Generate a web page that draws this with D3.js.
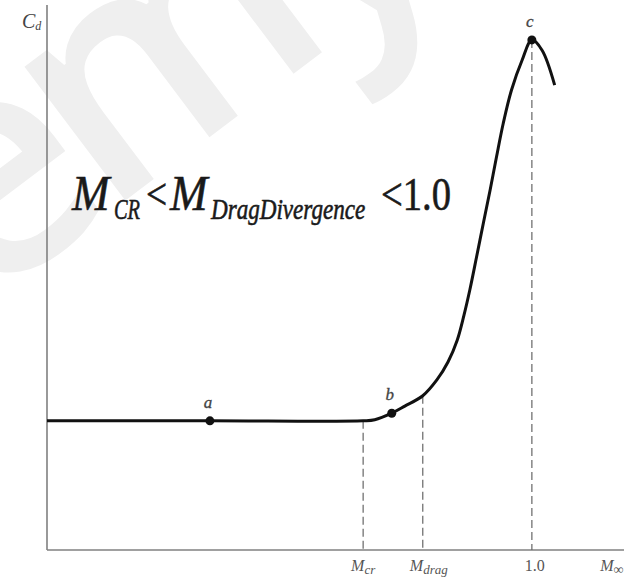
<!DOCTYPE html>
<html>
<head>
<meta charset="utf-8">
<script src="https://cdn.jsdelivr.net/npm/d3@7"></script>
<style>
	body { margin: 0; background: #fff; }
	svg { display: block; }
	text { font-family: "Liberation Serif", "Times New Roman", serif; }
</style>
</head>
<body>
<div id="chart"></div>
<script>
// drag coefficient vs free stream Mach number (arbitrary Cd units)
const mach = [0, 0.336, 0.652, 0.676, 0.711, 0.738, 0.775, 0.804, 0.827, 0.846, 0.860, 0.872, 0.886, 0.900, 0.914, 0.927, 0.941, 0.958, 0.980, 1.000, 1.021, 1.047];
const cd =   [23.7, 23.7, 23.7, 23.9, 25.1, 26.4, 28.3, 31.2, 34.5, 38.5, 43.1, 47.7, 53.8, 60.0, 66.1, 72.1, 78.3, 84.4, 89.9, 93.6, 91.7, 85.3];

// labelled points on the curve
const pointNames = ['a', 'b', 'c'];
const pointIdx = [1, 4, 19];

// vertical markers on the Mach axis
const markerMach = [0.652, 0.775, 1.0];
const markerCd = [23.7, 28.3, 93.6];
const markerLabel = [['M', 'cr'], ['M', 'drag'], ['1.0', '']];

const width = 641;
const height = 584;

const x = d3.scaleLinear().domain([0, 1.19]).range([47, 624]);
const y = d3.scaleLinear().domain([0, 100]).range([550, 5]);

const svg = d3.select('#chart')
	.append('svg')
	.attr('width', width)
	.attr('height', height);

// faint watermark left over in the source picture
svg.append('text')
	.attr('transform', 'translate(-20,310) rotate(-37)')
	.attr('font-size', 310)
	.attr('font-weight', 600)
	.attr('letter-spacing', -22)
	.attr('fill', '#efefef')
	.style('font-family', '"Open Sans", sans-serif')
	.text('emy');

// axes
svg.append('line')
	.attr('x1', x(0)).attr('x2', x(0))
	.attr('y1', y(0)).attr('y2', y(100))
	.attr('stroke', '#808080')
	.attr('stroke-width', 1.6);

svg.append('line')
	.attr('x1', x(0)).attr('x2', x(1.19))
	.attr('y1', y(0)).attr('y2', y(0))
	.attr('stroke', '#808080')
	.attr('stroke-width', 1.6);

// dashed markers
svg.selectAll('.marker')
	.data(markerMach)
	.enter()
	.append('line')
	.attr('class', 'marker')
	.attr('x1', (d) => x(d)).attr('x2', (d) => x(d))
	.attr('y1', (d, i) => y(markerCd[i])).attr('y2', y(0))
	.attr('stroke', '#666')
	.attr('stroke-width', 1.2)
	.attr('stroke-dasharray', '8,4');

// curve
const line = d3.line()
	.x((d) => x(d[0]))
	.y((d) => y(d[1]))
	.curve(d3.curveCatmullRom.alpha(0.5));

svg.append('path')
	.datum(d3.zip(mach, cd))
	.attr('d', line)
	.attr('fill', 'none')
	.attr('stroke', '#111')
	.attr('stroke-width', 3);

svg.selectAll('.pt')
	.data(pointIdx)
	.enter()
	.append('circle')
	.attr('class', 'pt')
	.attr('cx', (d) => x(mach[d]))
	.attr('cy', (d) => y(cd[d]))
	.attr('r', 4.5)
	.attr('fill', '#111');

svg.selectAll('.ptLabel')
	.data(pointIdx)
	.enter()
	.append('text')
	.attr('class', 'ptLabel')
	.attr('x', (d) => x(mach[d]) - 2)
	.attr('y', (d) => y(cd[d]) - 13)
	.attr('text-anchor', 'middle')
	.attr('font-style', 'italic')
	.attr('font-size', 17)
	.attr('fill', '#444')
	.attr('stroke', '#444')
	.attr('stroke-width', 0.3)
	.text((d, i) => pointNames[i]);

// axis labels
const tickLabels = svg.selectAll('.tickLabel')
	.data(markerMach)
	.enter()
	.append('text')
	.attr('class', 'tickLabel')
	.attr('x', (d, i) => x(d) + (i === 1 ? 6 : i === 2 ? 3 : 0))
	.attr('y', 571)
	.attr('text-anchor', 'middle')
	.attr('font-size', 16)
	.attr('fill', '#555');

tickLabels.append('tspan')
	.attr('font-style', (d, i) => markerLabel[i][1] ? 'italic' : 'normal')
	.text((d, i) => markerLabel[i][0]);

tickLabels.append('tspan')
	.attr('font-style', 'italic')
	.attr('font-size', 13)
	.attr('dy', 3)
	.text((d, i) => markerLabel[i][1]);

const mInf = svg.append('text')
	.attr('x', x(1.165))
	.attr('y', 571)
	.attr('text-anchor', 'middle')
	.attr('font-size', 16)
	.attr('fill', '#555');
mInf.append('tspan').attr('font-style', 'italic').text('M');
mInf.append('tspan').attr('font-size', 14).attr('dy', 3).text('∞');

const cdLabel = svg.append('text')
	.attr('x', 22)
	.attr('y', 28)
	.attr('font-size', 20)
	.attr('font-style', 'italic')
	.attr('fill', '#444');
cdLabel.append('tspan').text('C');
cdLabel.append('tspan').attr('font-size', 12).attr('dy', 2).text('d');

// the inequality, set in a narrow (horizontally squeezed) serif
const formula = svg.append('g')
	.attr('fill', '#1a1a1a')
	.attr('stroke', '#1a1a1a')
	.attr('stroke-width', 0.6);

const parts = [
	{ t: 'M', x: 72, y: 210, size: 50, italic: true, sx: 0.9 },
	{ t: 'CR', x: 114, y: 219, size: 30, italic: true, sx: 0.68 },
	{ t: '<', x: 146, y: 209, size: 44, italic: false, sx: 0.85 },
	{ t: 'M', x: 170, y: 210, size: 50, italic: true, sx: 0.9 },
	{ t: 'DragDivergence', x: 211, y: 219, size: 30, italic: true, sx: 0.77 },
	{ t: '<1.0', x: 381, y: 210, size: 46, italic: false, sx: 0.84 }
];

formula.selectAll('text')
	.data(parts)
	.enter()
	.append('text')
	.attr('transform', (d) => `translate(${d.x},${d.y}) scale(${d.sx},1)`)
	.attr('font-size', (d) => d.size)
	.attr('font-style', (d) => d.italic ? 'italic' : 'normal')
	.text((d) => d.t);
</script>
</body>
</html>
